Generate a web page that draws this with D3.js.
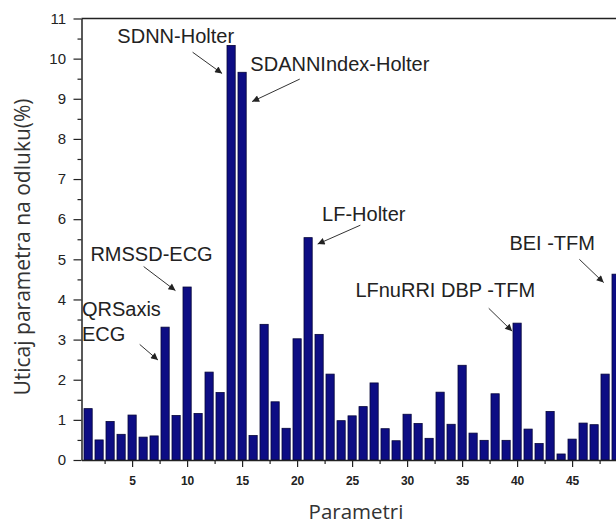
<!DOCTYPE html>
<html>
<head>
<meta charset="utf-8">
<script src="https://cdn.jsdelivr.net/npm/d3@7"></script>
<style>
  html, body { margin: 0; padding: 0; background: #fff; overflow: hidden; }
  svg { display: block; }
</style>
</head>
<body>
<svg id="chart" width="616" height="524"></svg>
<script>
// ---- data ----
const parameters = d3.range(1, 50);
const values = [1.28, 0.50, 0.96, 0.64, 1.12, 0.57, 0.60, 3.31, 1.11, 4.31,
                1.16, 2.19, 1.68, 10.33, 9.66, 0.61, 3.38, 1.45, 0.79, 3.02,
                5.54, 3.13, 2.14, 0.98, 1.10, 1.33, 1.92, 0.78, 0.48, 1.14,
                0.91, 0.54, 1.69, 0.89, 2.36, 0.67, 0.49, 1.65, 0.49, 3.41,
                0.77, 0.41, 1.21, 0.15, 0.52, 0.92, 0.88, 2.14, 4.63];
const xTicks = [5, 10, 15, 20, 25, 30, 35, 40, 45];
const yTicks = [0, 1, 2, 3, 4, 5, 6, 7, 8, 9, 10, 11];
const xTitle = "Parametri";
const yTitle = "Uticaj parametra na odluku(%)";
// annotation labels (data coordinates): text lines, label anchor, arrow start, arrow tip
const annLabels = [["SDNN-Holter"], ["SDANNIndex-Holter"], ["LF-Holter"], ["BEI -TFM"],
                   ["LFnuRRI DBP -TFM"], ["RMSSD-ECG"], ["QRSaxis", "ECG"]];
const annText = [[3.66, 10.40], [15.75, 9.69], [22.27, 5.96], [39.3, 5.23],
                 [25.3, 4.07], [1.21, 4.97], [0.44, 3.60]];
const annFrom = [[10.50, 10.16], [20.24, 9.49], [25.75, 5.85], [45.66, 5.00],
                 [37.42, 3.78], [6.05, 4.82], [5.69, 2.88]];
const annTo = [[13.18, 9.63], [15.91, 8.93], [21.87, 5.38], [47.87, 4.42],
               [39.55, 3.21], [8.94, 4.22], [7.35, 2.49]];

// ---- layout ----
const svg = d3.select("#chart");
const x = d3.scaleLinear().domain([0.4, 50]).range([81.5, 81.5 + 49.6 * 11]);
const y = d3.scaleLinear().domain([0, 11]).range([460, 18.5]);
const barW = 8.2;

// bars
svg.append("g").selectAll("rect").data(values).join("rect")
  .attr("x", (d, i) => x(parameters[i]) - barW / 2)
  .attr("y", d => y(d))
  .attr("width", barW)
  .attr("height", d => y(0) - y(d))
  .attr("fill", "#0d0d84")
  .attr("stroke", "#05053a")
  .attr("stroke-width", 0.8);

// frame
svg.append("line").attr("x1", x(0.4)).attr("x2", 616).attr("y1", y(11)).attr("y2", y(11))
  .attr("stroke", "#222").attr("stroke-width", 1.5);

// axes
const xAxis = svg.append("g").attr("transform", `translate(0,${y(0)})`)
  .call(d3.axisBottom(x).tickValues(xTicks).tickSize(7).tickPadding(9.5).tickSizeOuter(0));
const xMinor = svg.append("g").attr("transform", `translate(0,${y(0)})`)
  .call(d3.axisBottom(x).tickValues(d3.range(2.5, 50, 5)).tickSize(4).tickFormat("").tickSizeOuter(0));
const yAxis = svg.append("g").attr("transform", `translate(${x(0.4)},0)`)
  .call(d3.axisLeft(y).tickValues(yTicks).tickSize(8).tickPadding(7.5).tickSizeOuter(0));
const yMinor = svg.append("g").attr("transform", `translate(${x(0.4)},0)`)
  .call(d3.axisLeft(y).tickValues(d3.range(0.5, 11, 1)).tickSize(4).tickFormat("").tickSizeOuter(0));

[xAxis, xMinor, yAxis, yMinor].forEach(g => {
  g.select(".domain").attr("stroke", "#222").attr("stroke-width", 1.5);
  g.selectAll(".tick line").attr("stroke", "#222").attr("stroke-width", 1.2);
});
xMinor.select(".domain").remove();
yMinor.select(".domain").remove();
xAxis.selectAll("text").attr("font-family", "Liberation Sans, Arial, sans-serif")
  .attr("font-size", 12).attr("font-weight", "bold").attr("fill", "#222");
yAxis.selectAll("text").attr("font-family", "Liberation Sans, Arial, sans-serif")
  .attr("font-size", 15).attr("fill", "#222");

// titles
svg.append("text").attr("x", 356).attr("y", 518.5).attr("text-anchor", "middle")
  .attr("font-family", "Open Sans, sans-serif").attr("font-size", 20.5).attr("fill", "#333")
  .text(xTitle);
svg.append("text").attr("transform", "translate(30,247) rotate(-90)").attr("text-anchor", "middle")
  .attr("font-family", "Open Sans, sans-serif").attr("font-size", 21).attr("fill", "#333")
  .text(yTitle);

// annotations
const defs = svg.append("defs");
defs.append("marker").attr("id", "arrow").attr("viewBox", "0 0 10 10")
  .attr("refX", 10).attr("refY", 5).attr("markerWidth", 9).attr("markerHeight", 7)
  .attr("markerUnits", "userSpaceOnUse").attr("orient", "auto")
  .append("path").attr("d", "M0,0 L10,5 L0,10 z").attr("fill", "#222");

const ann = svg.append("g");
annLabels.forEach((lines, i) => {
  const t = ann.append("text").attr("x", x(annText[i][0])).attr("y", y(annText[i][1]))
    .attr("font-family", "Liberation Sans, Arial, sans-serif").attr("font-size", 20)
    .attr("fill", "#222");
  lines.forEach((ln, j) => t.append("tspan").attr("x", x(annText[i][0])).attr("dy", j === 0 ? 0 : 25.5).text(ln));
  ann.append("line")
    .attr("x1", x(annFrom[i][0])).attr("y1", y(annFrom[i][1]))
    .attr("x2", x(annTo[i][0])).attr("y2", y(annTo[i][1]))
    .attr("stroke", "#333").attr("stroke-width", 1).attr("marker-end", "url(#arrow)");
});
</script>
</body>
</html>
